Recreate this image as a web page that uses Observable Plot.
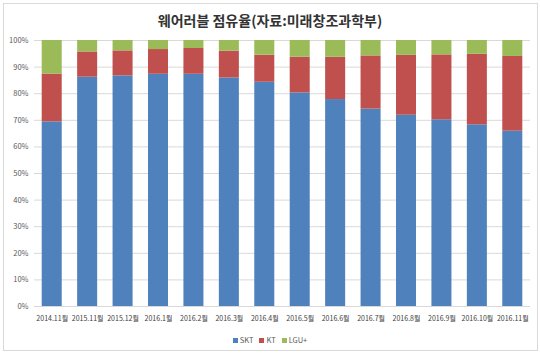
<!DOCTYPE html>
<html>
<head>
<meta charset="utf-8">
<script src="https://cdn.jsdelivr.net/npm/d3@7"></script>
<script src="https://cdn.jsdelivr.net/npm/@observablehq/plot@0.6"></script>
<style>
  html, body { margin: 0; padding: 0; background: #fff; }
  #wrap { position: relative; width: 540px; height: 353px; overflow: hidden; font-family: "Noto Sans CJK KR", "Noto Sans", sans-serif; }
  #frame { position: absolute; left: 3px; top: 3px; width: 533px; height: 346px; border: 1px solid #d9d9d9; box-sizing: content-box; pointer-events: none; }
  #title { position: absolute; left: 0; width: 540px; top: 10px; text-align: center; font-size: 14px; font-weight: bold; color: #333; line-height: 20px; }
  #chart { position: absolute; left: 0; top: 0; }
  #legend { position: absolute; left: 0; width: 540px; top: 334px; display: flex; justify-content: center; gap: 6px; font-size: 7.5px; color: #595959; line-height: 12px; }
  #legend span.sw { display: inline-block; width: 5px; height: 5px; margin-right: 2px; vertical-align: 0px; }
</style>
</head>
<body>
<div id="wrap">
  <div id="chart"></div>
  <div id="title">웨어러블 점유율(자료:미래창조과학부)</div>
  <div id="legend"></div>
  <div id="frame"></div>
</div>
<script>
const titleText = "웨어러블 점유율(자료:미래창조과학부)";
const months = ["2014.11월", "2015.11월", "2015.12월", "2016.1월", "2016.2월", "2016.3월", "2016.4월", "2016.5월", "2016.6월", "2016.7월", "2016.8월", "2016.9월", "2016.10월", "2016.11월"];
const carriers = ["SKT", "KT", "LGU+"];
const colors = ["#4F81BD", "#C0504D", "#9BBB59"];
const skt = [69.4, 86.2, 86.7, 87.3, 87.3, 85.9, 84.3, 80.3, 77.8, 74.2, 71.9, 70.2, 68.3, 65.9];
const kt  = [18.0, 9.5, 9.4, 9.3, 9.7, 10.1, 10.2, 13.4, 15.9, 20.0, 22.5, 24.4, 26.5, 28.1];
const lgu = [12.6, 4.3, 3.9, 3.4, 3.0, 4.0, 5.5, 6.3, 6.3, 5.8, 5.6, 5.4, 5.2, 6.0];
const yTicks = [0, 0.1, 0.2, 0.3, 0.4, 0.5, 0.6, 0.7, 0.8, 0.9, 1.0];

document.getElementById("title").textContent = titleText;

const series = [skt, kt, lgu];
const data = months.flatMap((m, i) => carriers.map((c, j) => ({month: m, carrier: c, value: series[j][i] / 100})));

const chart = Plot.plot({
  width: 540,
  height: 353,
  marginTop: 40,
  marginBottom: 47,
  marginLeft: 34,
  marginRight: 10,
  style: {fontFamily: "'Noto Sans CJK KR', 'Noto Sans', sans-serif", fontSize: "7px", color: "#595959", background: "transparent", overflow: "visible"},
  x: {domain: months, paddingInner: 0.435, paddingOuter: 0.2175, round: false, label: null},
  y: {domain: [0, 1], label: null},
  color: {domain: carriers, range: colors},
  marks: [
    Plot.gridY(yTicks, {stroke: "#d9d9d9", strokeOpacity: 1}),
    Plot.axisY(yTicks, {tickSize: 0, tickPadding: 6, tickFormat: d3.format(".0%"), label: null, fill: "#595959", fontSize: 7.5}),
    Plot.axisX({tickSize: 0, tickPadding: 10, label: null, fill: "#404040"}),
    Plot.barY(data, {x: "month", y: "value", fill: "carrier", order: carriers}),
    Plot.ruleY([0], {stroke: "#d9d9d9"})
  ]
});
document.getElementById("chart").appendChild(chart);

const legend = document.getElementById("legend");
carriers.forEach((c, i) => {
  const item = document.createElement("div");
  const sw = document.createElement("span");
  sw.className = "sw";
  sw.style.background = colors[i];
  item.appendChild(sw);
  item.appendChild(document.createTextNode(c));
  legend.appendChild(item);
});
</script>
</body>
</html>
